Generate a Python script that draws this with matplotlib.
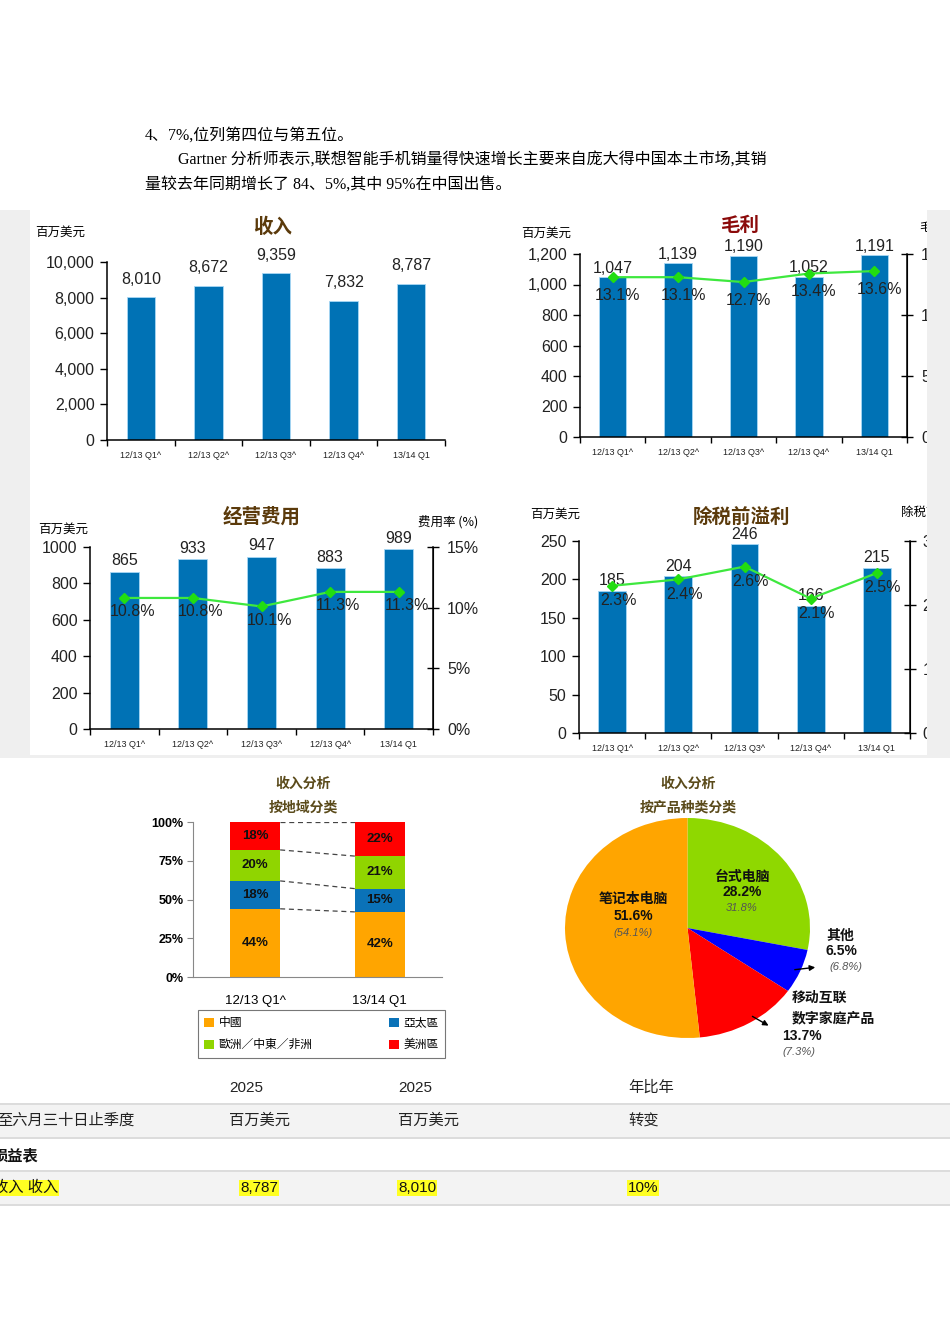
import numpy as np
import matplotlib.pyplot as plt
from matplotlib.patches import Rectangle, Patch

W, H = 950, 1344
plt.rcParams['font.family'] = ['Liberation Sans', 'Noto Sans CJK SC', 'DejaVu Sans']

# ---- data ----
quarters = ['12/13 Q1^', '12/13 Q2^', '12/13 Q3^', '12/13 Q4^', '13/14 Q1']
revenue = [8010, 8672, 9359, 7832, 8787]
gross_profit = [1047, 1139, 1190, 1052, 1191]
gross_margin = [13.1, 13.1, 12.7, 13.4, 13.6]
opex = [865, 933, 947, 883, 989]
opex_ratio = [10.8, 10.8, 10.1, 11.3, 11.3]
pretax = [185, 204, 246, 166, 215]
pretax_margin = [2.3, 2.4, 2.6, 2.1, 2.5]

geo_periods = ['12/13 Q1^', '13/14 Q1']
geo_names = ['中國', '亞太區', '歐洲／中東／非洲', '美洲區']
china = [44, 42]
apac = [18, 15]
emea = [20, 21]
americas = [18, 22]

product_share = [28.2, 6.5, 13.7, 51.6]   # 台式电脑, 其他, 移动互联, 笔记本电脑
product_prev = [31.8, 6.8, 7.3, 54.1]

table_header = ['', '2025', '2025', '年比年']
table_units = ['至六月三十日止季度', '百万美元', '百万美元', '转变']
table_section = '损益表'
table_revenue = ['收入 收入', '8,787', '8,010', '10%']

BAR = '#0072B5'
GREEN = '#3EE83E'
BROWN = '#5B3A0B'
CJK = ['Noto Sans CJK SC', 'DejaVu Sans']
CJK_TC = ['Noto Sans CJK TC', 'DejaVu Sans']

fig = plt.figure(figsize=(W / 100, H / 100), dpi=100)


def add_ax(left, top, right, bottom):
    return fig.add_axes([left / W, 1 - bottom / H, (right - left) / W, (bottom - top) / H])


def ftext(x, y, s, **kw):
    kw.setdefault('va', 'center')
    return fig.text(x / W, 1 - y / H, s, **kw)


def px(p):
    return p * 0.72


# ---- paragraph ----
serif = ['Liberation Serif', 'Noto Sans CJK SC']
ftext(145, 136, '4、7%,位列第四位与第五位。', fontsize=11.5, family=serif)
ftext(178, 161, 'Gartner 分析师表示,联想智能手机销量得快速增长主要来自庞大得中国本土市场,其销',
      fontsize=11.5, family=serif)
ftext(145, 186, '量较去年同期增长了 84、5%,其中 95%在中国出售。', fontsize=11.5, family=serif)


# ---- top bar panels ----
def bar_panel(box, values, ylim, yticks, ylabels, lab_off, vfmt):
    ax = add_ax(*box)
    x = np.arange(len(quarters))
    ax.bar(x, values, width=0.42, color=BAR, edgecolor='#a8d8f5', linewidth=0.6, zorder=2)
    ax.set_xlim(-0.5, len(quarters) - 0.5)
    ax.set_ylim(*ylim)
    ax.set_yticks(yticks)
    ax.set_yticklabels(ylabels, fontsize=11.5, color='#222222')
    ax.set_xticks(x)
    ax.set_xticklabels(quarters, fontsize=6.5, color='#222222')
    ax.set_xticks(np.arange(-0.5, len(quarters), 1), minor=True)
    ax.tick_params(axis='x', which='major', length=0, pad=8)
    ax.tick_params(axis='x', which='minor', length=4, width=1, direction='out')
    ax.tick_params(axis='y', length=5, width=1, direction='out', pad=4)
    for s in ['top', 'right']:
        ax.spines[s].set_visible(False)
    for s in ['left', 'bottom']:
        ax.spines[s].set_linewidth(1.1)
    for i, v in enumerate(values):
        ax.annotate(vfmt(v), (i, v), xytext=(0, px(lab_off)), textcoords='offset points',
                    ha='center', va='center', fontsize=11.5, color='#222222', zorder=5)
    return ax


def line_panel(ax, pct, ylim, yticks, ylabels, off, label_pad):
    ax.spines['right'].set_visible(True)
    ax2 = ax.twinx()
    ax2.set_ylim(*ylim)
    ax2.set_yticks(yticks)
    ax2.set_yticklabels(ylabels, fontsize=11.5, color='#222222')
    ax2.tick_params(axis='y', length=8, width=1, direction='inout', pad=label_pad)
    for s in ['top', 'left', 'bottom']:
        ax2.spines[s].set_visible(False)
    ax2.spines['right'].set_linewidth(1.1)
    x = np.arange(len(pct))
    ax2.plot(x, pct, color=GREEN, lw=1.6, marker='D', ms=5.5, mfc='#22DD11', mec='#22DD11', zorder=4)
    for i, p in enumerate(pct):
        ax2.annotate(f'{p}%', (i, p), xytext=(px(off[0]), -px(off[1])), textcoords='offset points',
                     ha='center', va='center', fontsize=11.5, color='#222222', zorder=5)
    return ax2


ax1 = bar_panel((107, 262, 445, 440), revenue, (0, 10000), np.arange(0, 10001, 2000),
                [f'{v:,}' for v in range(0, 10001, 2000)], 18, lambda v: f'{v:,}')
ftext(273, 227, '收入', fontsize=14, weight='bold', color=BROWN, ha='center', family=CJK)
ftext(35, 232, '百万美元', fontsize=9, family=CJK, ha='left')

ax2 = bar_panel((580, 254, 907, 437), gross_profit, (0, 1200), np.arange(0, 1201, 200),
                [f'{v:,}' for v in range(0, 1201, 200)], 9, lambda v: f'{v:,}')
line_panel(ax2, gross_margin, (0, 15), [0, 5, 10, 15], ['0%', '5%', '10%', '15%'], (5, 18), 6)
ftext(740, 225, '毛利', fontsize=14, weight='bold', color='#8B0A0A', ha='center', family=CJK)
ftext(521, 233, '百万美元', fontsize=9, family=CJK, ha='left')
ftext(920, 227, '毛利率 (%)', fontsize=9, family=CJK, ha='left')

ax3 = bar_panel((90, 547, 433, 729), opex, (0, 1000), np.arange(0, 1001, 200),
                [str(v) for v in range(0, 1001, 200)], 11, lambda v: f'{v}')
line_panel(ax3, opex_ratio, (0, 15), [0, 5, 10, 15], ['0%', '5%', '10%', '15%'], (8, 14), 6)
ftext(262, 517, '经营费用', fontsize=14, weight='bold', color=BROWN, ha='center', family=CJK)
ftext(38, 529, '百万美元', fontsize=9, family=CJK, ha='left')
ftext(418, 522, '费用率 (%)', fontsize=9, family=CJK, ha='left')

ax4 = bar_panel((579, 541, 910, 733), pretax, (0, 250), np.arange(0, 251, 50),
                [str(v) for v in range(0, 251, 50)], 10, lambda v: f'{v}')
line_panel(ax4, pretax_margin, (0, 3), [0, 1, 2, 3], ['0%', '1%', '2%', '3%'], (6, 15), 5)
ftext(742, 517, '除税前溢利', fontsize=14, weight='bold', color=BROWN, ha='center', family=CJK)
ftext(530, 514, '百万美元', fontsize=9, family=CJK, ha='left')
ftext(901, 512, '除税前溢利率 (%)', fontsize=9, family=CJK, ha='left')

# grey page margins around the chart block (drawn on top)
for (l, t, r, b) in [(0, 210, 30, 757), (927, 210, 950, 757), (0, 755, 950, 758)]:
    fig.add_artist(Rectangle((l / W, 1 - b / H), (r - l) / W, (b - t) / H,
                             transform=fig.transFigure, facecolor='#efefef',
                             edgecolor='none', zorder=10))

# ---- stacked bar by region ----
axs = add_ax(193, 822, 442, 977)
geo_colors = ['#FFA500', '#0A72B8', '#90D500', '#FF0000']
segs = [china, apac, emea, americas]
xg = np.arange(len(geo_periods))
bottom = np.zeros(len(geo_periods))
tops = []
for seg, col in zip(segs, geo_colors):
    axs.bar(xg, seg, width=0.4, bottom=bottom, color=col, edgecolor='none', zorder=2)
    for i, v in enumerate(seg):
        axs.text(i, bottom[i] + v / 2, f'{v}%', ha='center', va='center',
                 fontsize=9.5, weight='bold', color='#111111', zorder=3)
    bottom = bottom + np.array(seg)
    tops.append(bottom.copy())
for t in tops:
    axs.plot([0.2, 0.8], [t[0], t[1]], ls=(0, (4, 3)), color='#444444', lw=0.9, zorder=1)
axs.set_xlim(-0.5, 1.5)
axs.set_ylim(0, 100)
axs.set_yticks([0, 25, 50, 75, 100])
axs.set_yticklabels(['0%', '25%', '50%', '75%', '100%'], fontsize=9, weight='bold')
axs.set_xticks(xg)
axs.set_xticklabels(geo_periods, fontsize=9.5)
axs.tick_params(axis='x', length=0, pad=13)
axs.tick_params(axis='y', length=4, color='#888888', pad=3)
for s in ['top', 'right']:
    axs.spines[s].set_visible(False)
for s in ['left', 'bottom']:
    axs.spines[s].set_color('#888888')
ftext(303, 784, '收入分析', fontsize=10, weight='bold', color='#5a4a1a', ha='center', family=CJK)
ftext(303, 808, '按地域分类', fontsize=10, weight='bold', color='#5a4a1a', ha='center', family=CJK)
order = [0, 2, 1, 3]
handles = [Patch(facecolor=geo_colors[k], edgecolor='none') for k in order]
leg = fig.legend(handles, [geo_names[k] for k in order], ncol=2,
                 loc='upper left', bbox_to_anchor=(198 / W, 1 - 1060 / H, 247 / W, 50 / H),
                 mode='expand', prop={'family': CJK_TC, 'size': 8.5},
                 frameon=True, fancybox=False, handlelength=0.8, handleheight=0.8,
                 handletextpad=0.4, borderaxespad=0, labelspacing=0.75, borderpad=0.55)
leg.get_frame().set_edgecolor('#555555')
leg.get_frame().set_linewidth(0.8)

# ---- pie by product ----
axp = add_ax(565, 818, 810, 1038)
pie_colors = ['#8FD800', '#0000FF', '#FF0000', '#FFA500']
axp.pie(product_share, colors=pie_colors, startangle=90, counterclock=False,
        wedgeprops={'linewidth': 0})
axp.set_aspect('auto')
axp.set_xlim(-1, 1)
axp.set_ylim(-1, 1)
ftext(688, 784, '收入分析', fontsize=10, weight='bold', color='#5a4a1a', ha='center', family=CJK)
ftext(688, 808, '按产品种类分类', fontsize=10, weight='bold', color='#5a4a1a', ha='center', family=CJK)

bold = dict(fontsize=10, weight='bold', color='#111111')
ital = dict(fontsize=8, style='italic', color='#555555', family=['Liberation Sans'])
ftext(742, 877, '台式电脑', ha='center', family=CJK, **bold)
ftext(742, 892, f'{product_share[0]}%', ha='center', **bold)
ftext(742, 908, f'{product_prev[0]}%', ha='center', **ital)
ftext(633, 899, '笔记本电脑', ha='center', family=CJK, **bold)
ftext(633, 916, f'{product_share[3]}%', ha='center', **bold)
ftext(633, 933, f'({product_prev[3]}%)', ha='center', **ital)
ftext(826, 936, '其他', ha='left', family=CJK, **bold)
ftext(826, 951, f'{product_share[1]}%', ha='left', **bold)
ftext(829, 967, f'({product_prev[1]}%)', ha='left', **ital)
ftext(792, 998, '移动互联', ha='left', family=CJK, **bold)
ftext(792, 1018, '数字家庭产品', ha='left', family=CJK, **bold)
ftext(782, 1036, f'{product_share[2]}%', ha='left', **bold)
ftext(782, 1052, f'({product_prev[2]}%)', ha='left', **ital)
for (x0, y0, x1, y1) in [(792, 970, 818, 967), (750, 1015, 771, 1027)]:
    fig.add_artist(plt.Annotation('', xy=(x1 / W, 1 - y1 / H), xytext=(x0 / W, 1 - y0 / H),
                                  xycoords='figure fraction', textcoords='figure fraction',
                                  arrowprops=dict(arrowstyle='-|>', color='black', lw=1,
                                                  mutation_scale=8)))

# ---- table ----
for (t, b, c) in [(1104, 1138, '#f3f3f3'), (1171, 1205, '#f3f3f3')]:
    fig.add_artist(Rectangle((0, 1 - b / H), 1, (b - t) / H, transform=fig.transFigure,
                             facecolor=c, edgecolor='none', zorder=0))
for y in [1104, 1138, 1171, 1205]:
    fig.add_artist(Rectangle((0, 1 - (y + 1) / H), 1, 2 / H, transform=fig.transFigure,
                             facecolor='#dcdcdc', edgecolor='none', zorder=0))
col_x = [-3, 229, 398, 628]
tab_font = ['Liberation Sans Narrow', 'Liberation Sans', 'Noto Sans CJK SC']
for x, s in zip(col_x, table_header):
    ftext(x, 1088, s, fontsize=11, family=tab_font, color='#222222')
for x, s in zip(col_x, table_units):
    ftext(x, 1121, s, fontsize=11, family=tab_font, color='#222222')
ftext(-7, 1155, table_section, fontsize=11, weight='bold', family=CJK, color='#111111')
rev_x = [-7, 240, 398, 628]
for x, s in zip(rev_x, table_revenue):
    ftext(x, 1188, s, fontsize=11, family=tab_font, color='#111111',
          bbox=dict(facecolor='#FFFF22', edgecolor='none', pad=0.5))

fig.savefig('out.png', dpi=100)
